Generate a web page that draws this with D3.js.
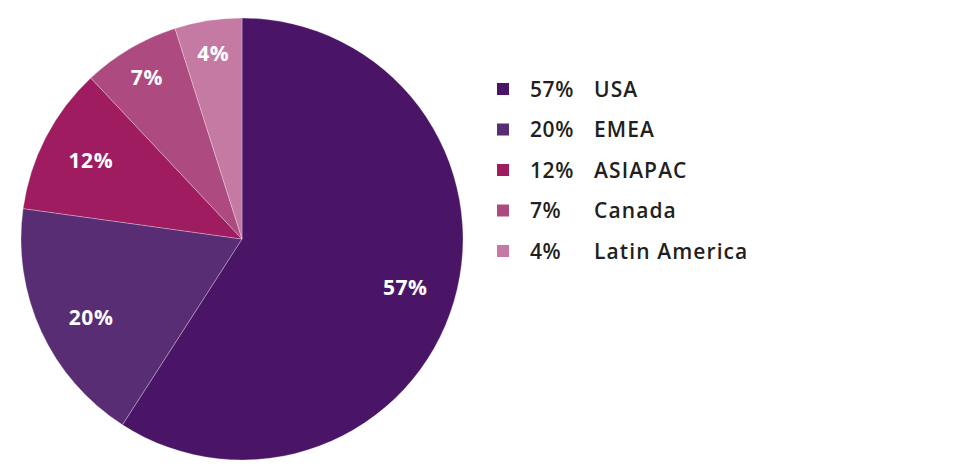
<!DOCTYPE html>
<html>
<head>
<meta charset="utf-8">
<script src="https://cdn.jsdelivr.net/npm/d3@7"></script>
<style>
  html, body { margin: 0; padding: 0; background: #ffffff; }
  svg { display: block; }
</style>
</head>
<body>
<svg id="chart" width="966" height="475"></svg>
<script>
// Data (slice shares as drawn, and the printed labels)
const regions = ["USA", "EMEA", "ASIAPAC", "Canada", "Latin America"];
const shares = [59.1, 18.1, 10.8, 7.1, 4.9];
const pctLabels = ["57%", "20%", "12%", "7%", "4%"];
const colors = ["#4a1566", "#592d74", "#9e1c5f", "#ad4a80", "#c47aa3"];

const svg = d3.select("#chart");
const cx = 242, cy = 239, R = 221;

const data = regions.map((r, i) => ({ region: r, share: shares[i], label: pctLabels[i], color: colors[i] }));

const pie = d3.pie().value(d => d.share).sort(null);
const arc = d3.arc().innerRadius(0).outerRadius(R);
const arcs = pie(data);

const g = svg.append("g").attr("transform", `translate(${cx},${cy})`);

g.selectAll("path.slice")
  .data(arcs)
  .join("path")
  .attr("class", "slice")
  .attr("d", arc)
  .attr("fill", d => d.data.color)
  .attr("stroke", "rgba(255,255,255,0.35)")
  .attr("stroke-width", 0.8);

g.selectAll("text.plabel")
  .data(arcs)
  .join("text")
  .attr("class", "plabel")
  .attr("transform", d => {
    const lr = d.data.share < 10 ? R * 0.85 : R * 0.77;
    const a = (d.startAngle + d.endAngle) / 2 - (d.data.share > 15 && d.data.share < 30 ? 0.05 : 0);
    return `translate(${Math.sin(a) * lr},${-Math.cos(a) * lr})`;
  })
  .attr("text-anchor", "middle")
  .attr("dy", "0.36em")
  .attr("fill", "#ffffff")
  .style("font-family", "'Open Sans', sans-serif")
  .style("font-weight", 700)
  .style("font-size", "21px")
  .style("letter-spacing", "0.6px")
  .text(d => d.data.label);

// Legend
const legend = svg.append("g");
const rowY = d3.scalePoint().domain(regions).range([89, 251]);

const rows = legend.selectAll("g.row")
  .data(data)
  .join("g")
  .attr("class", "row")
  .attr("transform", d => `translate(0,${rowY(d.region)})`);

rows.append("rect")
  .attr("x", 497).attr("y", -6)
  .attr("width", 12).attr("height", 12)
  .attr("fill", d => d.color);

rows.append("text")
  .attr("x", 530)
  .attr("dy", "0.36em")
  .attr("fill", "#231f20")
  .style("font-family", "'Open Sans', sans-serif")
  .style("font-weight", 600)
  .style("font-size", "21px")
  .style("letter-spacing", "0.6px")
  .text(d => d.label);

rows.append("text")
  .attr("x", 594)
  .attr("dy", "0.36em")
  .attr("fill", "#231f20")
  .style("font-family", "'Open Sans', sans-serif")
  .style("font-weight", 600)
  .style("font-size", "21px")
  .style("letter-spacing", "1.1px")
  .text(d => d.region);
</script>
</body>
</html>
